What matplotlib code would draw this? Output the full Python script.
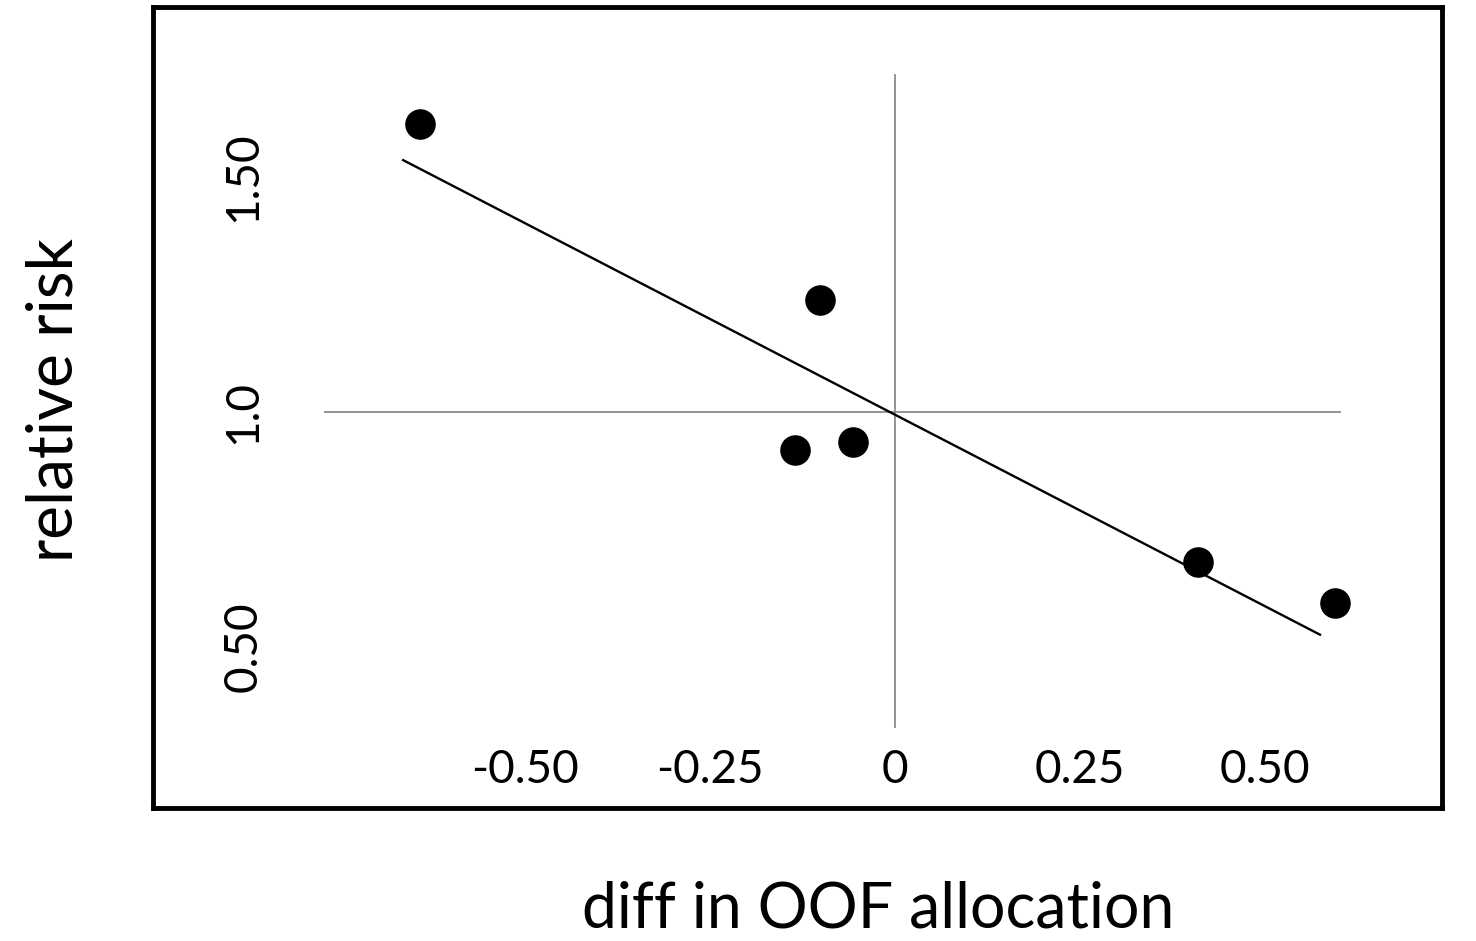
import numpy as np
import matplotlib
matplotlib.use("Agg")
import matplotlib.pyplot as plt

plt.rcParams['font.family'] = ['Lato', 'DejaVu Sans']

# data
diff_oof = [-0.642, -0.101, -0.135, -0.057, 0.409, 0.595]
rel_risk = [1.613, 1.238, 0.919, 0.936, 0.681, 0.594]

# fitted line end points
fit_x = [-0.665, 0.574]
fit_y = [1.536, 0.526]

x_ticks = [-0.50, -0.25, 0, 0.25, 0.50]
x_tick_labels = ['-0.50', '-0.25', '0', '0.25', '0.50']
y_ticks = [0.50, 1.0, 1.50]
y_tick_labels = ['0.50', '1.0', '1.50']

fig = plt.figure(figsize=(14.76, 9.41), dpi=100)
ax = fig.add_axes([0.1037, 0.1413, 0.8733, 0.8513])
ax.set_xlim(-1.003, 0.739)
ax.set_ylim(0.157, 1.862)

# cross lines through the origin (1.0 on relative risk)
ax.plot([0, 0], [0.33, 1.717], color='#8a8a8a', lw=1.3, zorder=1)
ax.plot([-0.770, 0.601], [1.0, 1.0], color='#8a8a8a', lw=1.3, zorder=1)

ax.plot(fit_x, fit_y, color='black', lw=1.7, zorder=2)
ax.plot(diff_oof, rel_risk, 'o', color='black', ms=21, zorder=3)

# tick labels sit inside the box
for xv, lab in zip(x_ticks, x_tick_labels):
    ax.text(xv, 0.238, lab, ha='center', va='center', fontsize=33)
for yv, lab in zip(y_ticks, y_tick_labels):
    ax.text(-0.881, yv, lab, ha='center', va='center', rotation=90, fontsize=33)

ax.set_xticks([])
ax.set_yticks([])
for sp in ax.spines.values():
    sp.set_linewidth(3.5)

fig.text(55 / 1476, 1 - 400 / 941, 'relative risk', rotation=90,
         ha='center', va='center', fontsize=46)
fig.text(878 / 1476, 1 - 910 / 941, 'diff in OOF allocation',
         ha='center', va='center', fontsize=45)

fig.savefig('out.png', dpi=100)
